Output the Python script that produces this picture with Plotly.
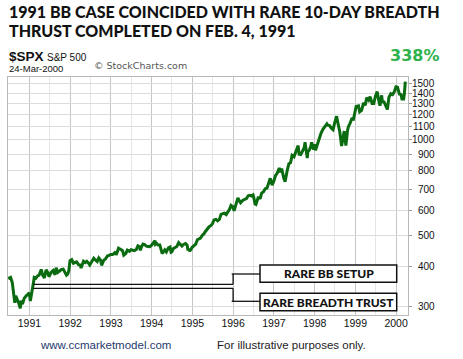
import math
import plotly.graph_objects as go

# ---------------- data ----------------
dates = [
 "1990-06-25","1990-07-16","1990-07-31","1990-08-10","1990-08-23","1990-08-31","1990-09-14","1990-09-28",
 "1990-10-11","1990-10-19","1990-10-31","1990-11-15","1990-11-30","1990-12-14","1990-12-31",
 "1991-01-09","1991-01-17","1991-01-31","1991-02-04","1991-02-13","1991-02-28","1991-03-15","1991-03-29",
 "1991-04-17","1991-04-30","1991-05-15","1991-05-31","1991-06-14","1991-06-25","1991-07-15","1991-07-31",
 "1991-08-19","1991-08-28","1991-09-13","1991-09-30","1991-10-15","1991-10-31","1991-11-15","1991-11-29",
 "1991-12-10","1991-12-20","1991-12-31",
 "1992-01-15","1992-01-31","1992-02-14","1992-02-28","1992-03-16","1992-03-31","1992-04-08","1992-04-30",
 "1992-05-15","1992-05-29","1992-06-12","1992-06-25","1992-07-15","1992-07-31","1992-08-14","1992-08-31",
 "1992-09-14","1992-09-30","1992-10-09","1992-10-30","1992-11-13","1992-11-30","1992-12-15","1992-12-31",
 "1993-01-15","1993-01-29","1993-02-12","1993-02-16","1993-02-26","1993-03-10","1993-03-31","1993-04-15",
 "1993-04-26","1993-05-14","1993-05-28","1993-06-15","1993-06-30","1993-07-15","1993-07-30","1993-08-16",
 "1993-08-31","1993-09-15","1993-09-21","1993-09-30","1993-10-15","1993-10-29","1993-11-15","1993-11-30",
 "1993-12-15","1993-12-31",
 "1994-01-14","1994-01-31","1994-02-04","1994-02-15","1994-02-28","1994-03-15","1994-03-31","1994-04-04",
 "1994-04-20","1994-04-29","1994-05-13","1994-05-31","1994-06-15","1994-06-24","1994-06-30","1994-07-15",
 "1994-07-29","1994-08-15","1994-08-31","1994-09-15","1994-09-30","1994-10-14","1994-10-31","1994-11-15",
 "1994-11-23","1994-11-30","1994-12-08","1994-12-30",
 "1995-01-13","1995-01-31","1995-02-15","1995-02-28","1995-03-15","1995-03-31","1995-04-14","1995-04-28",
 "1995-05-15","1995-05-31","1995-06-15","1995-06-30","1995-07-14","1995-07-31","1995-08-15","1995-08-31",
 "1995-09-15","1995-09-29","1995-10-13","1995-10-31","1995-11-15","1995-11-30","1995-12-13","1995-12-29",
 "1996-01-10","1996-01-31","1996-02-13","1996-02-29","1996-03-08","1996-03-29","1996-04-15","1996-04-30",
 "1996-05-15","1996-05-31","1996-06-14","1996-06-28","1996-07-05","1996-07-16","1996-07-24","1996-07-31",
 "1996-08-15","1996-08-30","1996-09-13","1996-09-30","1996-10-15","1996-10-31","1996-11-15","1996-11-29",
 "1996-12-05","1996-12-16","1996-12-31",
 "1997-01-15","1997-01-31","1997-02-18","1997-02-28","1997-03-11","1997-03-31","1997-04-11","1997-04-30",
 "1997-05-15","1997-05-30","1997-06-13","1997-06-30","1997-07-15","1997-07-31","1997-08-06","1997-08-15",
 "1997-08-29","1997-09-15","1997-09-30","1997-10-07","1997-10-27","1997-10-31","1997-11-14","1997-11-28",
 "1997-12-05","1997-12-24","1997-12-31",
 "1998-01-09","1998-01-30","1998-02-13","1998-02-27","1998-03-16","1998-03-31","1998-04-21","1998-04-30",
 "1998-05-15","1998-05-29","1998-06-15","1998-06-30","1998-07-17","1998-07-31","1998-08-14","1998-08-31",
 "1998-09-23","1998-09-30","1998-10-08","1998-10-23","1998-10-30","1998-11-13","1998-11-30","1998-12-15",
 "1998-12-31",
 "1999-01-08","1999-01-29","1999-02-09","1999-02-26","1999-03-15","1999-03-31","1999-04-12","1999-04-30",
 "1999-05-13","1999-05-31","1999-06-15","1999-06-30","1999-07-16","1999-07-30","1999-08-10","1999-08-25",
 "1999-08-31","1999-09-15","1999-09-30","1999-10-15","1999-10-29","1999-11-15","1999-11-30","1999-12-15",
 "1999-12-31",
 "2000-01-14","2000-01-31","2000-02-15","2000-02-25","2000-02-29","2000-03-07","2000-03-15","2000-03-24",
]
spx = [
 366,369,356,335,307,323,316,306,
 295,312,304,317,322,326,330,
 311,327,344,351,369,367,373,375,
 391,375,368,390,383,371,383,388,
 376,396,383,388,391,392,383,375,
 378,387,417,
 420,409,412,413,405,404,395,415,
 411,415,410,404,415,424,419,414,
 425,418,403,419,422,431,433,436,
 436,439,445,434,443,456,452,448,
 434,439,450,446,451,449,448,452,
 464,461,449,459,470,468,463,462,
 461,466,
 474,482,469,472,467,467,446,439,
 446,451,444,457,460,443,444,455,
 458,462,475,469,463,469,472,466,
 449,454,446,459,
 465,470,485,487,491,501,506,515,
 526,533,537,545,560,562,556,562,
 583,584,588,582,593,605,622,616,
 598,636,657,640,634,646,650,654,
 667,669,666,671,657,629,627,640,
 662,652,680,687,702,705,737,757,
 745,721,741,
 772,786,816,791,813,757,738,801,
 842,848,894,885,918,954,960,901,
 899,923,947,983,877,915,929,955,
 983,932,970,
 928,980,1021,1049,1080,1102,1124,1112,
 1109,1091,1077,1134,1187,1121,1063,957,
 1066,1017,959,1071,1099,1125,1164,1162,
 1229,
 1275,1280,1225,1238,1307,1286,1358,1335,
 1368,1302,1302,1373,1419,1329,1281,1382,
 1320,1318,1283,1247,1363,1397,1389,1414,
 1469,
 1465,1394,1389,1333,1366,1333,1392,1527,
]
y_ticks = [300, 400, 500, 600, 700, 800, 900, 1000, 1100, 1200, 1300, 1400, 1500]
x_ticks = ["1991","1992","1993","1994","1995","1996","1997","1998","1999","2000"]
signal_date = "1991-02-04"
labels = ["RARE BB SETUP", "RARE BREADTH TRUST"]

# ---------------- layout helpers ----------------
W, H = 463, 359
L, R, T, B = 8, 55, 77, 44
PW, PH = W - L - R, H - T - B

def px(x):
    return (x - L) / PW

def py(y):
    return (H - B - y) / PH

fig = go.Figure()
fig.add_trace(go.Scatter(x=dates, y=spx, mode="lines",
                         line=dict(color="#0b6b10", width=3), hoverinfo="skip"))

fig.update_layout(
    width=W, height=H, margin=dict(l=L, r=R, t=T, b=B),
    paper_bgcolor="white", plot_bgcolor="white", showlegend=False,
    xaxis=dict(type="date", range=["1990-06-23", "2000-04-17"],
               tickvals=[f"{y}-01-01" for y in x_ticks], ticktext=x_ticks,
               showgrid=True, gridcolor="#c6c6c6", gridwidth=1,
               minor=dict(dtick="M6", tick0="1991-01-01", showgrid=True, gridcolor="#e6e6e6"),
               showline=True, linecolor="#b8b8b8", linewidth=1, mirror=True,
               ticks="", ticklabelstandoff=-2,
               tickfont=dict(family="Liberation Sans, Arial", size=10.5, color="#111"),
               zeroline=False),
    yaxis=dict(type="log", range=[2.4488, 3.1981], side="right",
               tickvals=y_ticks, showticklabels=False,
               showgrid=True, gridcolor="#dcdcdc", gridwidth=1,
               showline=True, linecolor="#b8b8b8", linewidth=1, mirror=True,
               ticks="outside", ticklen=3, tickcolor="#999", zeroline=False),
)

ann = []
# right-aligned y tick labels (log axis -> annotation y is log10 of value)
for v in y_ticks:
    ann.append(dict(xref="paper", yref="y", x=px(436), y=math.log10(v), text=str(v), showarrow=False,
                    xanchor="right", yanchor="middle", borderpad=0,
                    font=dict(family="Liberation Sans, Arial", size=10, color="#111")))

title_font = dict(family="Lato, Montserrat, DejaVu Sans", size=16, color="#111", weight=900)
ann.append(dict(xref="paper", yref="paper", x=px(7), y=py(11.7), xanchor="left", yanchor="middle",
                text="1991 BB CASE COINCIDED WITH RARE 10-DAY BREADTH", showarrow=False, font=title_font))
ann.append(dict(xref="paper", yref="paper", x=px(7), y=py(30.5), xanchor="left", yanchor="middle",
                text="THRUST COMPLETED ON FEB. 4, 1991", showarrow=False, font=title_font))
ann.append(dict(xref="paper", yref="paper", x=px(7), y=py(56.5), xanchor="left", yanchor="middle",
                text="<b>$SPX</b>", showarrow=False,
                font=dict(family="Liberation Sans, Arial", size=13.5, color="#111")))
ann.append(dict(xref="paper", yref="paper", x=px(45), y=py(57), xanchor="left", yanchor="middle",
                text="S&P 500", showarrow=False,
                font=dict(family="Liberation Sans, Arial", size=10, color="#111")))
ann.append(dict(xref="paper", yref="paper", x=px(7), y=py(68.5), xanchor="left", yanchor="middle",
                text="24-Mar-2000", showarrow=False,
                font=dict(family="Liberation Sans, Arial", size=9.5, color="#111")))
ann.append(dict(xref="paper", yref="paper", x=px(92), y=py(65.5), xanchor="left", yanchor="middle",
                text="© StockCharts.com", showarrow=False,
                font=dict(family="DejaVu Sans", size=9.5, color="#555")))
ann.append(dict(xref="paper", yref="paper", x=px(441), y=py(55.5), xanchor="right", yanchor="middle",
                text="<b>338%</b>", showarrow=False,
                font=dict(family="DejaVu Sans", size=16, color="#2eb24c")))
ann.append(dict(xref="paper", yref="paper", x=px(38), y=py(345), xanchor="left", yanchor="middle",
                text="www.ccmarketmodel.com", showarrow=False,
                font=dict(family="Liberation Sans, Arial", size=11.5, color="#1f3a6e")))
ann.append(dict(xref="paper", yref="paper", x=px(215), y=py(345), xanchor="left", yanchor="middle",
                text="For illustrative purposes only.", showarrow=False,
                font=dict(family="Liberation Sans, Arial", size=11.5, color="#222")))

# label boxes
box_font = dict(family="Lato, Montserrat, DejaVu Sans", size=12, color="#111", weight=900)
boxes = [(265, 282.3), (293.3, 310.7)]
for (y0, y1), lab in zip(boxes, labels):
    ann.append(dict(xref="paper", yref="paper", x=px(328.5), y=py((y0 + y1) / 2),
                    xanchor="center", yanchor="middle", text=lab, showarrow=False, font=box_font))

shapes = []
for (y0, y1) in boxes:
    shapes.append(dict(type="rect", xref="paper", yref="paper", x0=px(260), x1=px(396.7),
                       y0=py(y1), y1=py(y0), line=dict(color="#111", width=1.5), fillcolor="white"))
# connector lines
for ya, yb in [(284.3, 274), (288.3, 301.3)]:
    shapes.append(dict(type="line", xref="x", yref="paper", x0=signal_date, x1="1996-01-01",
                       y0=py(ya), y1=py(ya), line=dict(color="#111", width=1.3)))
    shapes.append(dict(type="line", xref="x", yref="paper", x0="1996-01-01", x1="1996-01-01",
                       y0=py(ya), y1=py(yb), line=dict(color="#111", width=1.3)))
    shapes.append(dict(type="line", xref="paper", yref="paper", x0=px(231.7), x1=px(260),
                       y0=py(yb), y1=py(yb), line=dict(color="#111", width=1.3)))

fig.update_layout(annotations=ann, shapes=shapes)
fig.write_html("out.html", config={"displayModeBar": False},
               post_script="document.body.style.margin='0';")
